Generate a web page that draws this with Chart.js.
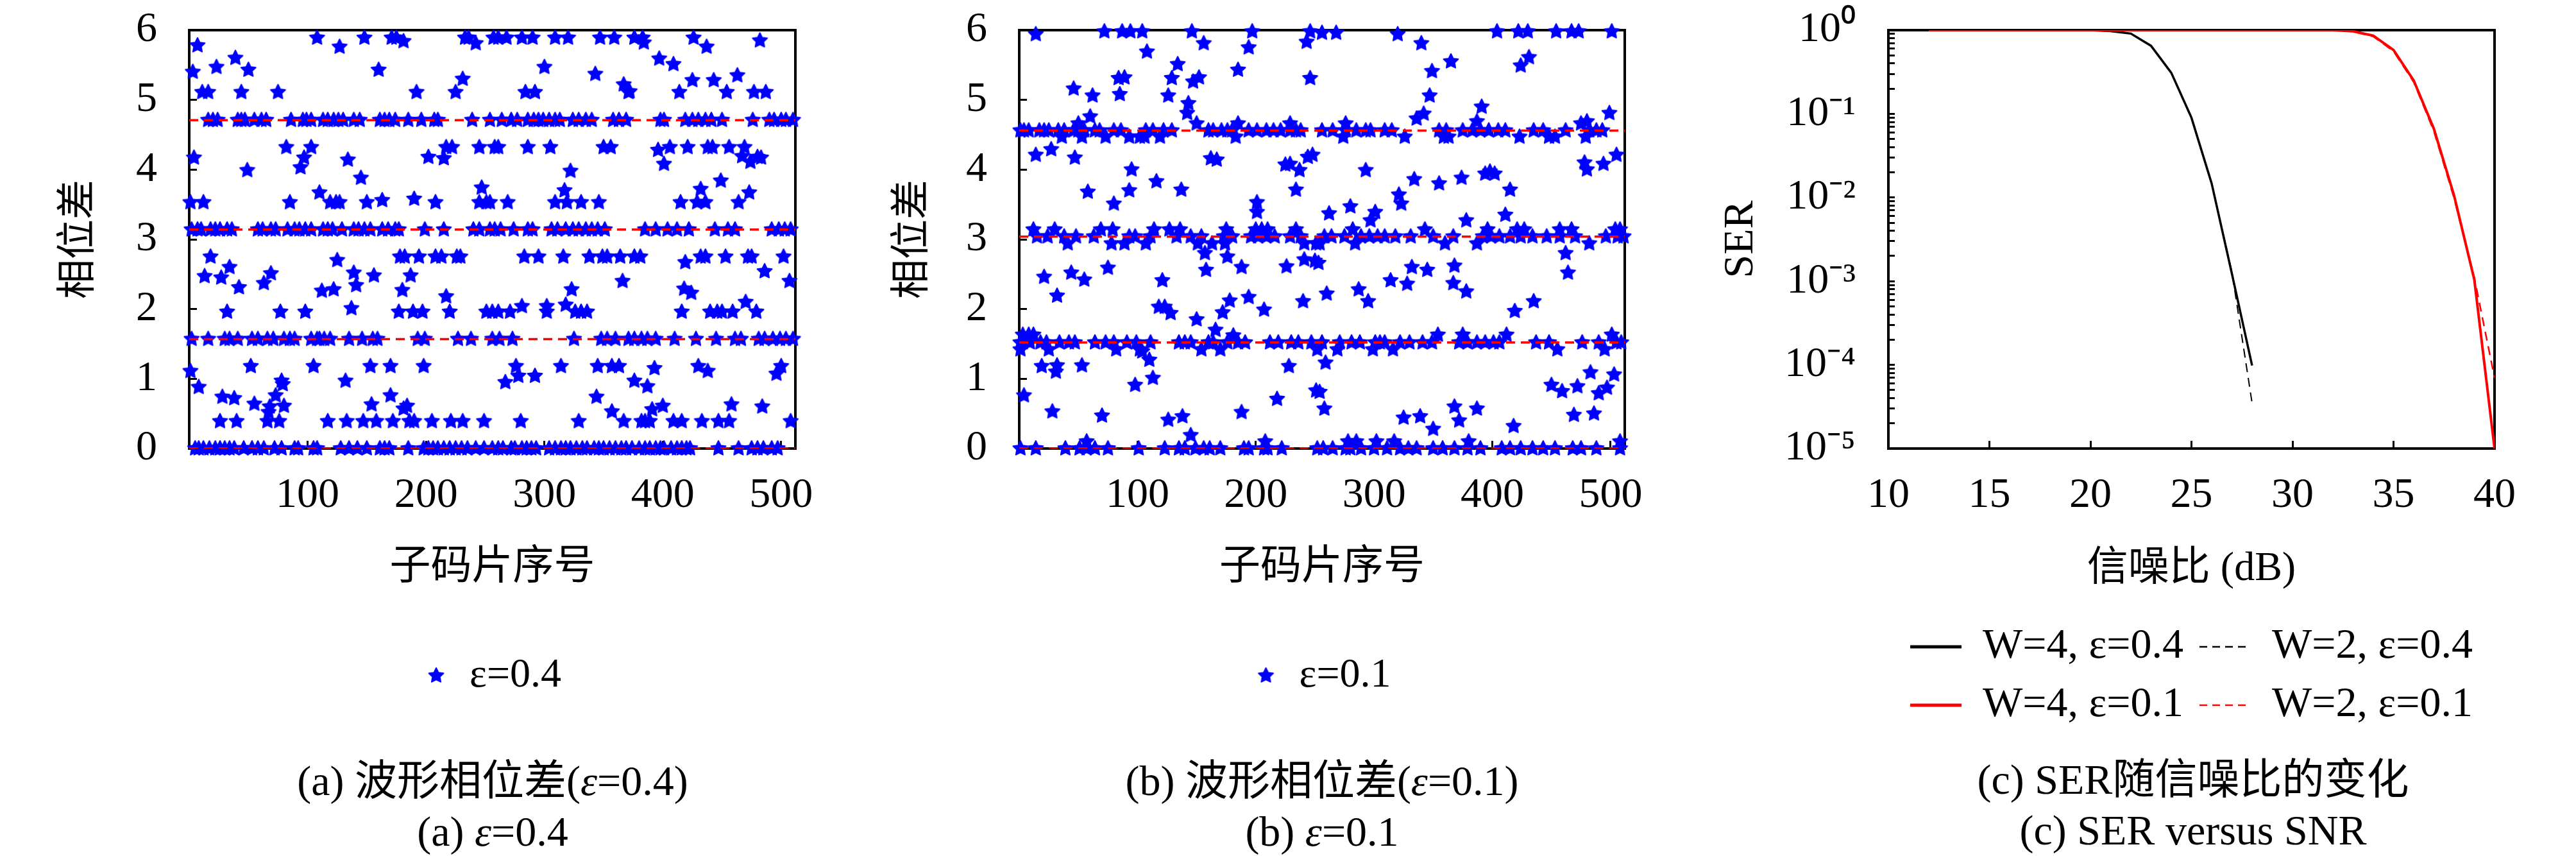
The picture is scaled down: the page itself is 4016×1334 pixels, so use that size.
<!DOCTYPE html>
<html>
<head>
<meta charset="utf-8">
<script src="https://cdn.jsdelivr.net/npm/chart.js@4.4.1/dist/chart.umd.min.js"></script>
<style>
  body { margin: 0; width: 4016px; height: 1334px; overflow: hidden; background: #fff; position: relative;
         font-family: 'Liberation Serif', 'Noto Sans CJK SC', serif; color: #000; }
  canvas { position: absolute; top: 0; }
  .cap { position: absolute; transform: translate(-50%, -50%); font-size: 66px; line-height: 1; white-space: nowrap; }
</style>
</head>
<body>
<canvas id="chartA" width="1330" height="1095" style="left:0px"></canvas>
<canvas id="chartB" width="1280" height="1095" style="left:1330px"></canvas>
<canvas id="chartC" width="1406" height="1142" style="left:2610px"></canvas>

<div class="cap" style="left:768px;top:1217px">(a) 波形相位差(<i>ε</i>=0.4)</div>
<div class="cap" style="left:768px;top:1296px">(a) <i>ε</i>=0.4</div>
<div class="cap" style="left:2061px;top:1217px">(b) 波形相位差(<i>ε</i>=0.1)</div>
<div class="cap" style="left:2061px;top:1296px">(b) <i>ε</i>=0.1</div>
<div class="cap" style="left:3419px;top:1215px">(c) SER随信噪比的变化</div>
<div class="cap" style="left:3419px;top:1294px">(c) SER versus SNR</div>

<script>
// ---- panel (a): phase difference, eps = 0.4 (points sit on pi/8 levels) ----
const levelsA = [0, 0.39, 1.18, 1.57, 1.96, 2.75, 3.14, 3.53, 4.32, 4.71, 5.11, 5.89];
const chipsA0 = [5, 8, 12, 17, 22, 26, 30, 34, 38, 46, 53, 58, 63, 72, 78, 89, 92, 105, 108, 128, 135, 142, 150, 161, 165, 169, 185, 198, 202, 206, 210, 215, 220, 225, 230, 235, 242, 249, 256, 261, 265, 272, 275, 281, 285, 289, 293, 304, 309, 314, 318, 322, 327, 332, 336, 342, 346, 350, 355, 360, 365, 369, 374, 380, 385, 389, 394, 398, 401, 407, 412, 416, 420, 423, 447, 464, 475, 480, 485, 492, 497];
const chipsA1 = [26, 40, 66, 76, 117, 133, 147, 158, 172, 186, 190, 205, 221, 231, 249, 280, 329, 367, 382, 385, 389, 409, 416, 433, 447, 456, 508];
const chipsA2 = [52, 105, 153, 170, 198, 276, 314, 345, 357, 363, 430, 500];
const chipsA3 = [2, 16, 30, 34, 41, 53, 58, 66, 71, 80, 85, 89, 103, 108, 110, 114, 119, 135, 146, 155, 159, 193, 199, 227, 238, 256, 262, 273, 325, 348, 353, 360, 371, 376, 382, 387, 394, 410, 428, 445, 461, 466, 481, 486, 493, 499, 504, 510];
const chipsA4 = [32, 77, 98, 177, 189, 197, 220, 251, 256, 261, 271, 302, 326, 331, 336, 416, 440, 446, 450, 459, 479];
const chipsA5 = [18, 178, 182, 194, 208, 213, 226, 229, 283, 295, 316, 338, 349, 353, 364, 376, 381, 432, 436, 453, 472, 475, 502];
const chipsA6 = [2, 7, 10, 18, 22, 26, 32, 36, 58, 62, 69, 73, 83, 89, 93, 98, 103, 113, 117, 121, 129, 139, 143, 148, 153, 163, 168, 174, 177, 199, 215, 240, 245, 254, 258, 263, 274, 286, 290, 306, 311, 318, 324, 329, 335, 340, 345, 351, 385, 394, 404, 412, 422, 444, 455, 461, 492, 498, 503, 508];
const chipsA7 = [1, 12, 85, 119, 124, 127, 150, 208, 245, 251, 254, 269, 309, 319, 331, 346, 415, 429, 436, 464];
const chipsA8 = [82, 103, 217, 222, 245, 258, 261, 286, 305, 350, 356, 406, 421, 438, 442, 456, 469];
const chipsA9 = [16, 20, 24, 41, 44, 47, 55, 61, 65, 86, 96, 99, 103, 113, 117, 122, 126, 130, 139, 144, 161, 165, 169, 174, 185, 196, 207, 210, 239, 254, 264, 272, 277, 286, 291, 295, 299, 304, 309, 313, 324, 329, 335, 340, 358, 363, 369, 398, 401, 419, 425, 430, 436, 441, 450, 476, 490, 494, 500, 504, 510];
const chipsA10 = [11, 16, 44, 75, 192, 225, 284, 292, 371, 414, 454, 477, 487];
const chipsA11 = [108, 148, 171, 175, 233, 236, 257, 261, 268, 281, 290, 309, 320, 347, 359, 376, 383, 426];
const looseA = [[7,5.78],[3,5.40],[23,5.47],[39,5.60],[50,5.43],[127,5.76],[160,5.43],[181,5.84],[231,5.30],[242,5.81],
  [4,4.17],[97,4.17],[94,4.03],[202,4.18],[215,4.16],[134,4.14],[49,3.99],[145,3.88],[110,3.67],[163,3.56],[190,3.58],[247,3.74],
  [13,2.47],[27,2.45],[34,2.60],[42,2.31],[63,2.37],[69,2.51],[125,2.70],[112,2.26],[122,2.28],[139,2.52],[141,2.34],[156,2.48],
  [187,2.48],[180,2.27],[217,2.18],[137,2.01],[1,1.11],[8,0.88],[78,0.97],[79,0.92],[132,0.97],[28,0.74],[38,0.72],[55,0.64],
  [73,0.76],[68,0.60],[67,0.52],[80,0.61],[154,0.63],[170,0.76],[181,0.57],[184,0.61],
  [384,5.82],[437,5.76],[482,5.85],[300,5.47],[343,5.37],[397,5.59],[409,5.51],[367,5.22],[372,5.12],[425,5.28],[443,5.28],[463,5.35],
  [396,4.28],[467,4.19],[480,4.18],[483,4.17],[474,4.11],[401,4.08],[322,3.98],[317,3.70],[432,3.72],[449,3.84],[473,3.67],
  [419,2.67],[486,2.54],[507,2.40],[366,2.40],[323,2.28],[418,2.29],[424,2.23],[281,2.04],[302,2.04],[318,2.06],[470,2.10],
  [393,1.15],[438,1.11],[496,1.07],[278,1.04],[267,0.95],[292,1.04],[376,0.97],[387,0.89],[344,0.74],[458,0.63],[484,0.60],
  [357,0.53],[391,0.56],[400,0.61]];
const refLinesA = [0, 1.57, 3.14, 4.71];

// ---- panel (b): phase difference, eps = 0.1 ----
const levelsB = [0, 0.1, 1.42, 1.52, 1.63, 2.94, 3.04, 3.14, 4.47, 4.56, 4.66];
const chipsB0 = [1, 14, 39, 51, 57, 64, 75, 101, 123, 135, 140, 149, 156, 161, 170, 190, 194, 207, 210, 222, 252, 257, 265, 276, 280, 289, 300, 311, 322, 329, 336, 350, 358, 368, 379, 390, 408, 415, 424, 434, 443, 453, 468, 475, 488, 508];
const chipsB1 = [57, 208, 278, 285, 302, 317, 380, 508];
const chipsB2 = [1, 25, 82, 102, 154, 170, 252, 269, 299, 316, 455, 495];
const chipsB3 = [1, 3, 9, 18, 23, 34, 42, 47, 64, 73, 80, 91, 99, 111, 135, 140, 145, 160, 164, 176, 185, 191, 212, 219, 230, 236, 247, 256, 271, 281, 288, 301, 305, 309, 322, 330, 341, 349, 372, 379, 387, 394, 401, 406, 437, 448, 476, 490, 505, 509];
const chipsB4 = [3, 8, 12, 354, 375, 412, 501];
const chipsB5 = [41, 78, 89, 107, 151, 163, 174, 241, 251, 254, 284, 360, 387, 482];
const chipsB6 = [15, 24, 38, 48, 63, 93, 98, 111, 133, 145, 154, 173, 180, 196, 202, 209, 216, 229, 238, 258, 264, 275, 289, 296, 303, 309, 318, 331, 350, 367, 392, 399, 406, 415, 424, 434, 446, 457, 470, 496, 506, 511];
const chipsB7 = [12, 30, 69, 79, 114, 127, 136, 175, 200, 205, 210, 234, 282, 343, 396, 421, 427, 457, 467, 504, 508];
const chipsB8 = [36, 53, 73, 93, 102, 106, 119, 183, 274, 326, 359, 363, 423, 448, 453, 479];
const chipsB9 = [1, 4, 8, 17, 21, 25, 33, 38, 46, 50, 55, 64, 68, 80, 86, 107, 113, 122, 129, 160, 164, 171, 176, 180, 194, 201, 209, 215, 221, 229, 234, 238, 256, 265, 276, 285, 293, 297, 309, 315, 355, 361, 375, 383, 390, 397, 405, 411, 435, 443, 462, 482, 488, 493];
const chipsB10 = [50, 150, 185, 229, 276, 475];
const looseB = [[14,5.94],[72,5.98],[87,5.98],[94,5.98],[104,5.98],[146,5.98],[197,5.98],[246,5.98],[243,5.83],[156,5.81],[194,5.75],
  [108,5.69],[134,5.51],[185,5.43],[246,5.31],[84,5.31],[89,5.32],[129,5.31],[152,5.32],[147,5.26],[46,5.16],[62,5.06],[85,5.08],
  [126,5.06],[143,4.95],[142,4.81],[60,4.76],
  [256,5.96],[268,5.96],[320,5.94],[340,5.81],[365,5.55],[349,5.41],[347,5.06],[342,4.80],[336,4.73],[404,5.98],[422,5.98],[430,5.98],
  [454,5.98],[467,5.98],[473,5.98],[501,5.98],[424,5.49],[431,5.61],[391,4.90],[499,4.81],[480,4.69],[387,4.69],
  [14,4.21],[27,4.29],[47,4.17],[162,4.16],[167,4.14],[95,4.00],[225,4.07],[229,4.08],[237,3.99],[244,4.18],[248,4.21],[116,3.83],
  [93,3.70],[58,3.68],[137,3.71],[234,3.71],[80,3.51],[201,3.53],[201,3.39],
  [505,4.21],[478,4.10],[480,4.00],[494,4.08],[293,3.99],[394,3.94],[398,3.97],[402,3.94],[334,3.86],[355,3.80],[374,3.88],[415,3.71],
  [321,3.64],[323,3.51],[280,3.47],[262,3.37],[301,3.39],[297,3.27],[411,3.35],[378,3.27],
  [157,2.80],[176,2.75],[158,2.56],[188,2.60],[226,2.61],[241,2.71],[250,2.69],[75,2.59],[21,2.46],[44,2.52],[55,2.42],[32,2.19],
  [121,2.41],[118,2.03],[123,2.03],[128,1.94],[178,2.12],[194,2.17],[240,2.11],[207,1.99],[172,1.95],[150,1.85],[166,1.70],[181,1.62],
  [462,2.80],[464,2.52],[368,2.62],[332,2.60],[345,2.56],[314,2.41],[328,2.36],[367,2.37],[378,2.25],[287,2.28],[295,2.11],[260,2.22],
  [435,2.11],[419,1.97],[253,2.66],
  [104,1.39],[110,1.27],[113,1.01],[98,0.91],[19,1.18],[32,1.19],[31,1.10],[53,1.19],[228,1.18],[4,0.76],[28,0.53],[70,0.47],
  [126,0.41],[138,0.46],[145,0.19],[188,0.52],[218,0.71],[251,0.83],
  [259,1.23],[483,1.09],[450,0.91],[459,0.82],[472,0.89],[490,0.79],[497,0.87],[503,1.06],[254,0.81],[258,0.57],[325,0.44],[339,0.46],
  [368,0.60],[372,0.40],[387,0.57],[350,0.28],[418,0.32],[469,0.48],[486,0.50]];
const refLinesB = [0, 1.52, 3.04, 4.56];

const chipTicks = [100, 200, 300, 400, 500];
const phaseTicks = [0, 1, 2, 3, 4, 5, 6];

// ---- panel (c): SER versus SNR ----
const snrEps04 = [12, 13, 14, 15, 16, 17, 18, 19, 20, 21, 22, 23, 24, 25, 26, 27, 28];
const serW4Eps04 = [1, 1, 1, 1, 1, 1, 1, 1, 1, 0.975, 0.91, 0.65, 0.31, 0.09, 0.0147, 1.23e-3, 9.8e-5];
const serW2Eps04 = [1, 1, 1, 1, 1, 1, 1, 1, 1, 0.975, 0.91, 0.65, 0.31, 0.088, 0.0145, 1.3e-3, 3.5e-5];
const snrEps01 = [12, 13, 14, 15, 16, 17, 18, 19, 20, 21, 22, 23, 24, 25, 26, 27, 28, 29, 30, 31, 32, 33, 34, 35, 36, 37, 38, 39, 40];
const serW4Eps01 = [1, 1, 1, 1, 1, 1, 1, 1, 1, 1, 1, 1, 1, 1, 1, 1, 1, 1, 1, 1, 1, 0.97, 0.86, 0.58, 0.25, 0.066, 0.0105, 1.04e-3, 1e-5];
const serW2Eps01 = [1, 1, 1, 1, 1, 1, 1, 1, 1, 1, 1, 1, 1, 1, 1, 1, 1, 1, 1, 1, 1, 0.96, 0.84, 0.56, 0.24, 0.062, 0.0098, 1.1e-3, 7e-5];
const legendC = ['W=4, ε=0.4', 'W=2, ε=0.4', 'W=4, ε=0.1', 'W=2, ε=0.1'];
const snrTicks = [10, 15, 20, 25, 30, 35, 40];
const serTicks = [1e-5, 1e-4, 1e-3, 1e-2, 1e-1, 1];
const serTickLabels = ['10⁻⁵', '10⁻⁴', '10⁻³', '10⁻²', '10⁻¹', '10⁰'];

Chart.defaults.font.family = "'Liberation Serif', 'Noto Sans CJK SC', serif";
Chart.defaults.color = '#000';
Chart.defaults.animation = false;
Chart.defaults.events = [];

// filled 5 point star used as marker
function starImage(r, color) {
  const c = document.createElement('canvas');
  const s = Math.ceil(r * 2 + 4);
  c.width = c.height = s;
  const g = c.getContext('2d');
  g.translate(s / 2, s / 2);
  g.beginPath();
  for (let k = 0; k < 10; k++) {
    const rad = k % 2 ? r * 0.5 : r;
    const a = -Math.PI / 2 + k * Math.PI / 5;
    g.lineTo(rad * Math.cos(a), rad * Math.sin(a));
  }
  g.closePath();
  g.fillStyle = color;
  g.fill();
  g.lineJoin = 'round';
  g.lineWidth = 2;
  g.strokeStyle = color;
  g.stroke();
  return c;
}
const star = starImage(12, '#0000ff');

// box around the plot area
const frame = {
  id: 'frame',
  beforeDatasetsDraw(chart) {
    const a = chart.chartArea, c = chart.ctx;
    c.save();
    c.strokeStyle = '#000';
    c.lineWidth = 4;
    c.strokeRect(a.left, a.top, a.right - a.left, a.bottom - a.top);
    c.restore();
  }
};

function collect(levels, lists, loose) {
  const pts = [];
  lists.forEach((list, k) => list.forEach(i => pts.push({x: i, y: levels[k]})));
  loose.forEach(p => pts.push({x: p[0], y: p[1]}));
  return pts;
}

const tickGrid = {drawOnChartArea: false, drawTicks: true, tickLength: -12, tickWidth: 3, tickColor: '#000'};

// tick padding would otherwise be added to the plot's top/bottom margin
function fixWidth(w) {
  return s => { s.width = w; s.paddingTop = 35; s.paddingBottom = 35; };
}
function fixHeight(h) {
  return s => { s.height = h; s.paddingLeft = 35; s.paddingRight = 35; };
}

function phaseChart(id, pts, refLines, legendText, yWidth, titlePad, rightPad) {
  const refSets = refLines.map(v => ({
    label: 'ref', data: [{x: 0, y: v}, {x: 512, y: v}], showLine: true,
    borderColor: '#ff0000', borderWidth: 3.5, borderDash: [14, 9], pointRadius: 0, order: 0
  }));
  return new Chart(document.getElementById(id), {
    type: 'scatter',
    data: {
      datasets: [{label: legendText, data: pts, pointStyle: star, pointRadius: 12, order: 1, clip: false}].concat(refSets)
    },
    options: {
      responsive: false,
      layout: {padding: {left: 0, right: rightPad, top: 47, bottom: 0}},
      scales: {
        x: {
          type: 'linear', min: 0, max: 512,
          afterBuildTicks: s => { s.ticks = chipTicks.map(v => ({value: v})); },
          afterFit: fixHeight(312),
          border: {display: false}, grid: tickGrid,
          ticks: {font: {size: 66}, padding: 46, maxRotation: 0, autoSkip: false},
          title: {display: true, text: '子码片序号', font: {size: 64}, padding: {top: 0, bottom: 87}}
        },
        y: {
          min: 0, max: 6,
          afterBuildTicks: s => { s.ticks = phaseTicks.map(v => ({value: v})); },
          afterFit: fixWidth(yWidth),
          border: {display: false}, grid: tickGrid,
          ticks: {font: {size: 66}, padding: 62, autoSkip: false},
          title: {display: true, text: '相位差', font: {size: 62}, padding: {top: titlePad, bottom: 0}}
        }
      },
      plugins: {
        tooltip: {enabled: false},
        legend: {
          position: 'bottom', fullSize: false,
          labels: {filter: it => it.datasetIndex === 0, usePointStyle: true, pointStyle: star,
                   font: {size: 64}, padding: 10, color: '#000'}
        }
      }
    },
    plugins: [frame]
  });
}

phaseChart('chartA',
  collect(levelsA, [chipsA0, chipsA1, chipsA2, chipsA3, chipsA4, chipsA5, chipsA6, chipsA7, chipsA8, chipsA9, chipsA10, chipsA11], looseA),
  refLinesA, 'ε=0.4', 295, 88, 90);
phaseChart('chartB',
  collect(levelsB, [chipsB0, chipsB1, chipsB2, chipsB3, chipsB4, chipsB5, chipsB6, chipsB7, chipsB8, chipsB9, chipsB10], looseB),
  refLinesB, 'ε=0.1', 259, 58, 77);

const zip = (xs, ys) => xs.map((x, i) => ({x: x, y: ys[i]}));

new Chart(document.getElementById('chartC'), {
  type: 'scatter',
  data: {
    datasets: [
      {label: legendC[0], data: zip(snrEps04, serW4Eps04), showLine: true, borderColor: '#000', borderWidth: 3.5, pointRadius: 0, order: 2},
      {label: legendC[1], data: zip(snrEps04, serW2Eps04), showLine: true, borderColor: '#000', borderWidth: 2, borderDash: [14, 9], pointRadius: 0, order: 3},
      {label: legendC[2], data: zip(snrEps01, serW4Eps01), showLine: true, borderColor: '#ff0000', borderWidth: 4, pointRadius: 0, order: 0},
      {label: legendC[3], data: zip(snrEps01, serW2Eps01), showLine: true, borderColor: '#ff0000', borderWidth: 2.5, borderDash: [14, 9], pointRadius: 0, order: 1}
    ]
  },
  options: {
    responsive: false,
    layout: {padding: {left: 0, right: 127, top: 47, bottom: 0}},
    scales: {
      x: {
        type: 'linear', min: 10, max: 40,
        afterBuildTicks: s => { s.ticks = snrTicks.map(v => ({value: v})); },
        afterFit: fixHeight(251),
        border: {display: false}, grid: tickGrid,
        ticks: {font: {size: 66}, padding: 46, maxRotation: 0, autoSkip: false},
        title: {display: true, text: '信噪比 (dB)', font: {size: 64}, padding: {top: 0, bottom: 24}}
      },
      y: {
        type: 'logarithmic', min: 1e-5, max: 1,
        afterBuildTicks: s => {
          const t = [];
          for (let e = -5; e < 0; e++) {
            for (let m = 1; m < 10; m++) t.push({value: m === 1 ? serTicks[e + 5] : m * Math.pow(10, e)});
          }
          t.push({value: serTicks[5]});
          s.ticks = t;
        },
        afterFit: fixWidth(334),
        border: {display: false},
        grid: {drawOnChartArea: false, drawTicks: true, tickLength: -10, tickWidth: 3, tickColor: '#000'},
        ticks: {font: {size: 66}, padding: 61, autoSkip: false,
                callback: v => { const k = serTicks.indexOf(v); return k >= 0 ? serTickLabels[k] : ''; }},
        title: {display: true, text: 'SER', font: {size: 66}, padding: {top: 65, bottom: 0}}
      }
    },
    plugins: {
      tooltip: {enabled: false},
      legend: {
        position: 'bottom', fullSize: false,
        labels: {
          usePointStyle: true, pointStyle: 'line', pointStyleWidth: 80, font: {size: 66}, padding: 25,
          color: '#000', sort: (a, b) => a.datasetIndex - b.datasetIndex,
          // legend samples take the line style of each dataset (dash, width)
          generateLabels: chart => Chart.defaults.plugins.legend.labels.generateLabels(chart).map(l => {
            const ds = chart.data.datasets[l.datasetIndex];
            l.lineDash = ds.borderDash ? [12, 8] : [];
            l.lineWidth = ds.borderDash ? 2.5 : 5;
            l.strokeStyle = ds.borderColor;
            l.fillStyle = ds.borderColor;
            return l;
          })
        }
      }
    }
  },
  plugins: [frame]
});
</script>
</body>
</html>
